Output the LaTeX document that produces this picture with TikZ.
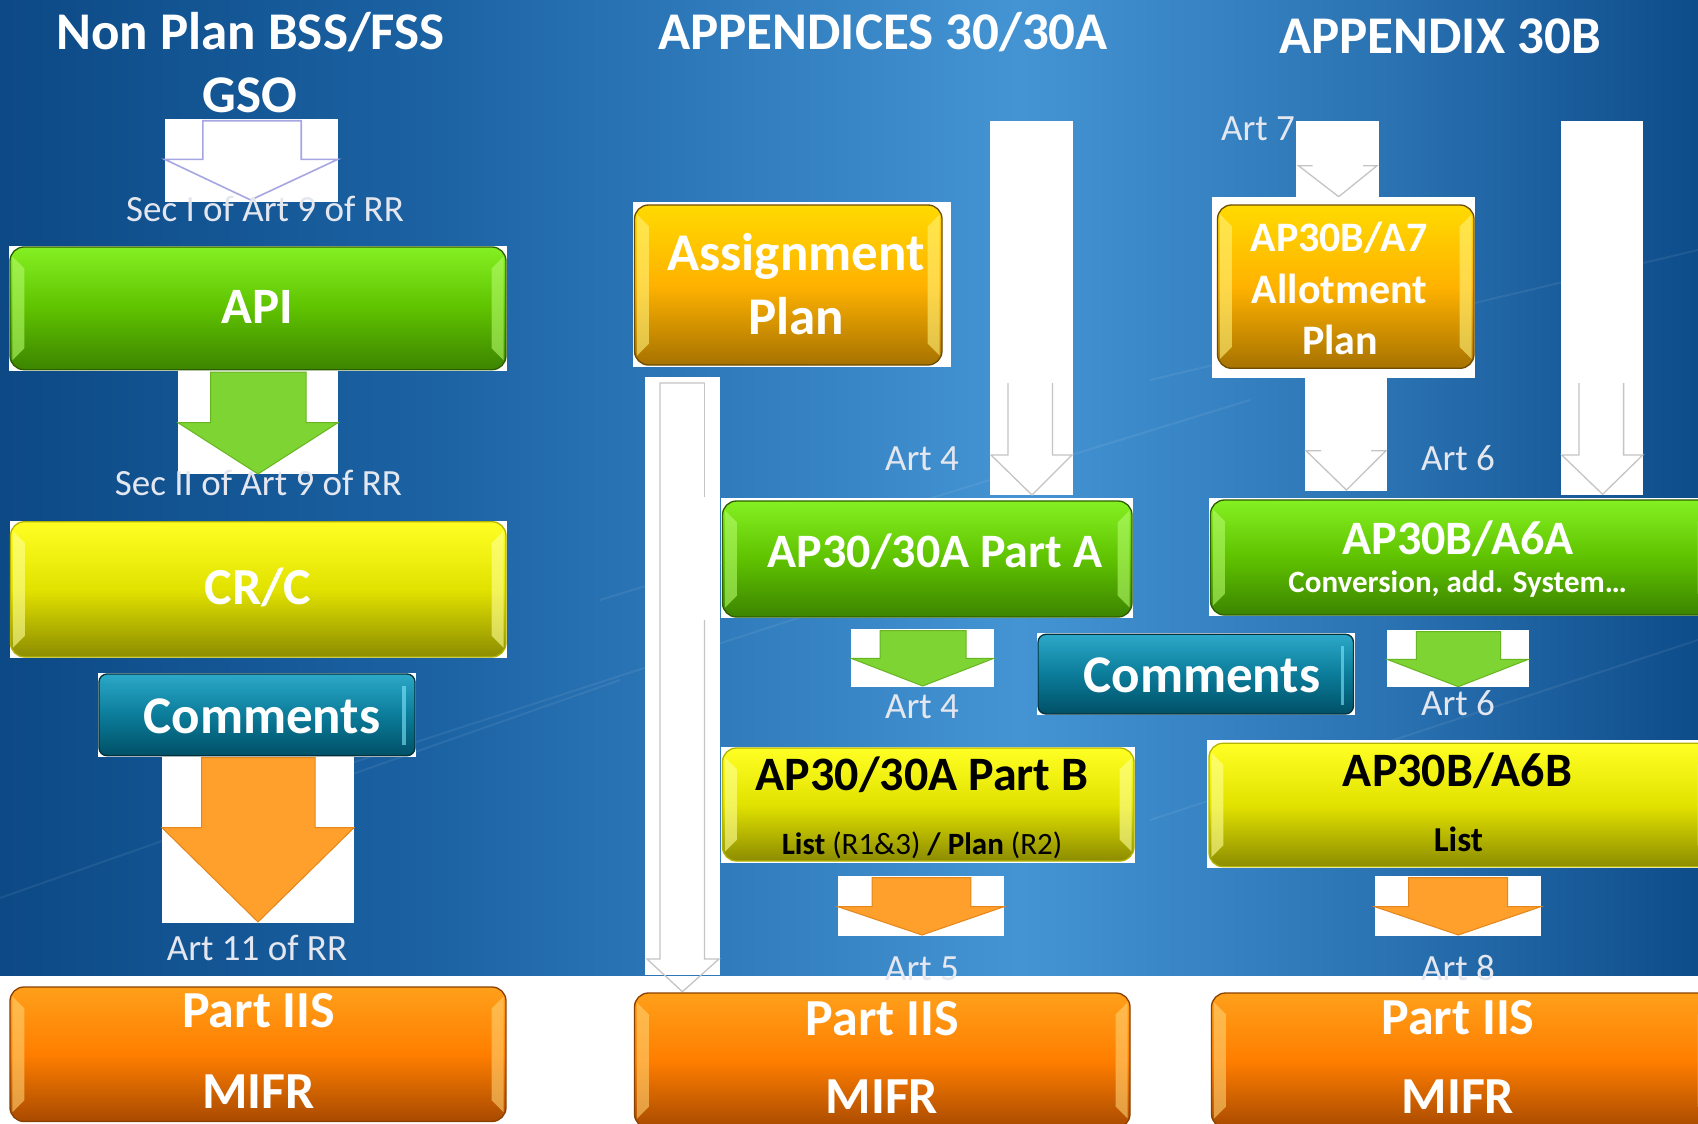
\documentclass[tikz,border=0pt]{standalone}
\usepackage{fontspec}
\setmainfont{Carlito}
\usetikzlibrary{calc,fit}

\definecolor{bgA}{HTML}{0C4985}
\definecolor{bgB}{HTML}{1C63A4}
\definecolor{bgC}{HTML}{4494D4}
\definecolor{bgD}{HTML}{2A72B2}
\definecolor{bgE}{HTML}{0E4C8A}
\pgfdeclarehorizontalshading{bgshade}{100bp}{color(0bp)=(bgA); color(25bp)=(bgA); color(38bp)=(bgB); color(55bp)=(bgC); color(66bp)=(bgD); color(75bp)=(bgE); color(100bp)=(bgE)}

\definecolor{lblc}{HTML}{E4E7EF}
\definecolor{gTop}{HTML}{84F022}
\definecolor{gMid}{HTML}{5FC200}
\definecolor{gBot}{HTML}{3C8400}
\definecolor{gLine}{HTML}{2C5E00}
\definecolor{gHi}{HTML}{B4FA6A}
\definecolor{yTop}{HTML}{FFFF24}
\definecolor{yMid}{HTML}{E2E200}
\definecolor{yBot}{HTML}{8C8C00}
\definecolor{yLine}{HTML}{B4B400}
\definecolor{yHi}{HTML}{FFFF96}
\definecolor{oTop}{HTML}{FFA01A}
\definecolor{oMid}{HTML}{FF7E00}
\definecolor{oBot}{HTML}{A84A00}
\definecolor{oLine}{HTML}{8A4000}
\definecolor{oHi}{HTML}{FFD070}
\definecolor{auTop}{HTML}{FFDA00}
\definecolor{auMid}{HTML}{FFB200}
\definecolor{auBot}{HTML}{A67200}
\definecolor{auLine}{HTML}{6E4C00}
\definecolor{auHi}{HTML}{FFF27A}
\definecolor{tTop}{HTML}{2CA8C8}
\definecolor{tMid}{HTML}{0B7C9A}
\definecolor{tBot}{HTML}{005066}
\definecolor{tLine}{HTML}{00303C}
\definecolor{tHi}{HTML}{7FE6FA}
\definecolor{agreen}{HTML}{7ED432}
\definecolor{agreenL}{HTML}{67B523}
\definecolor{aorange}{HTML}{FF9F2C}
\definecolor{aorangeL}{HTML}{E4861A}
\definecolor{lav}{HTML}{A6A6E2}
\definecolor{wgray}{HTML}{C4C4C4}

\newcommand{\mybevel}[2]{%
  \fill[#2, opacity=.6] ($(#1.north west)+(3,10)$) -- ($(#1.north west)+(15,22)$) -- ($(#1.south west)+(15,-22)$) -- ($(#1.south west)+(3,-10)$) -- cycle;
  \fill[#2, opacity=.6] ($(#1.north east)+(-3,10)$) -- ($(#1.north east)+(-15,22)$) -- ($(#1.south east)+(-15,-22)$) -- ($(#1.south east)+(-3,-10)$) -- cycle;
}

\begin{document}
\begin{tikzpicture}[x=1pt,y=-1pt,
  box/.style={draw=#1Line, line width=1.3pt, rounded corners=14pt, top color=#1Top, bottom color=#1Bot, middle color=#1Mid, inner sep=0pt},
  tbox/.style={draw=tLine, line width=1.3pt, rounded corners=8pt, top color=tTop, bottom color=tBot, middle color=tMid, inner sep=0pt},
  tx/.style={anchor=base, inner sep=0pt},
  ttl/.style={tx, text=white, font=\bfseries\fontsize{53}{53}\selectfont},
  lbl/.style={tx, text=lblc, font=\fontsize{37}{37}\selectfont},
  bw/.style={tx, text=white, font=\bfseries\fontsize{#1}{#1}\selectfont},
  bk/.style={tx, text=black, font=\bfseries\fontsize{#1}{#1}\selectfont},
  garrow/.style={fill=agreen, draw=agreenL, line width=1pt},
  oarrow/.style={fill=aorange, draw=aorangeL, line width=1pt},
  wline/.style={draw=wgray, line width=1.3pt},
  streak/.style={white, opacity=.07, line width=2pt}
]
\useasboundingbox (0,0) rectangle (1698,1124);
\fill[white] (0,0) rectangle (1698,1124);
\shade[shading=bgshade] (0,0) rectangle (1698,975);

% faint streaks
\draw[streak] (0,898) -- (620,680);
\draw[streak] (330,770) -- (1100,520);
\draw[streak] (600,600) -- (1250,400);
\draw[streak] (1150,380) -- (1698,250);
\draw[streak] (1150,820) -- (1698,640);

% ---------------- Left column ----------------
\node[ttl] (t1a) at (250.5,50) {Non Plan BSS/FSS};
\node[ttl] (t1b) at (250,113) {GSO};

\fill[white] (164.6,119) rectangle (337.9,201.7);
\draw[fill=white, draw=lav, line width=1.6pt] (202.8,120.7) -- (202.8,159.3) -- (164.6,159.3) -- (250.7,200) -- (337.9,159.3) -- (301.2,159.3) -- (301.2,120.7) -- cycle;
\node[lbl] (l1) at (265,221.7) {Sec I of Art 9 of RR};

\fill[white] (9,246) rectangle (507,370.7);
\node[box=g, fit={(10,247) (506,369.7)}] (api) {};
\mybevel{api}{gHi}
\node[bw=51] (apit) at (257,323) {API};

\fill[white] (178,370.7) rectangle (338,474);
\draw[garrow] (210.5,372) -- (210.5,422.7) -- (178,422.7) -- (258,474) -- (338,422.7) -- (306,422.7) -- (306,372) -- cycle;
\node[lbl] (l2) at (258.5,495) {Sec II of Art 9 of RR};

\fill[white] (9.6,520.7) rectangle (507,658);
\node[box=y, fit={(10.5,521.7) (506,657)}] (crc) {};
\mybevel{crc}{yHi}
\node[bw=52] (crct) at (258,604) {CR/C};

\fill[white] (98,673) rectangle (416,756.7);
\node[tbox, fit={(99,674) (415,755.7)}] (cm1) {};
\fill[tHi, opacity=.6] (402,686) rectangle (405.5,745);
\node[bw=53] (cm1t) at (262,733) {Comments};

\fill[white] (162,756.7) rectangle (354,922.7);
\draw[oarrow] (201.7,757.5) -- (201.7,827.7) -- (162,827.7) -- (258,922) -- (354,827.7) -- (315,827.7) -- (315,757.5) -- cycle;
\node[lbl] (l3) at (257,960) {Art 11 of RR};

\node[box=o, fit={(10,987) (506,1121.5)}] (mifr1) {};
\mybevel{mifr1}{oHi}
\node[bw=52] (mifr1a) at (258.7,1027.7) {Part IIS};
\node[bw=52] (mifr1b) at (258.3,1108) {MIFR};

% ---------------- Middle column ----------------
\node[ttl] (t2) at (883,50) {APPENDICES 30/30A};

\fill[white] (633,201.7) rectangle (950.8,366.7);
\node[box=au, fit={(634.5,205) (942,365)}] (asg) {};
\mybevel{asg}{auHi}
\node[bw=53] (asga) at (796,270.7) {Assignment};
\node[bw=53] (asgb) at (796,334.3) {Plan};

% tall white arrow (Art 4 from top)
\fill[white] (990,121) rectangle (1073,495);
\draw[wline] (1008,383) -- (1008,455) -- (991,455) -- (1032,495) -- (1072,455) -- (1052.5,455) -- (1052.5,383);
\node[lbl] (l4) at (922,470) {Art 4};

% long white arrow (Assignment plan to MIFR)
\fill[white] (645,377) rectangle (720,975);
\draw[wline] (704.5,383) -- (660,383) -- (660,959) -- (647,959) -- (682.4,991.7) -- (719,959) -- (704.5,959) -- (704.5,620);
\draw[wline] (704.5,497) -- (704.5,383);

\fill[white] (721,497.7) rectangle (1133,618.3);
\node[box=g, fit={(722.5,501) (1132,617)}] (pa) {};
\mybevel{pa}{gHi}
\node[bw=48] (pat) at (935,567.7) {AP30/30A Part A};

\fill[white] (851,629) rectangle (994,686.7);
\draw[garrow] (880,630.5) -- (880,658.3) -- (851,658.3) -- (922.7,686) -- (994,658.3) -- (966,658.3) -- (966,630.5) -- cycle;
\node[lbl] (l5) at (922,718) {Art 4};

\fill[white] (1037,633.3) rectangle (1354.5,715);
\node[tbox, fit={(1038,634.3) (1353.5,714)}] (cm2) {};
\fill[tHi, opacity=.6] (1340.5,646) rectangle (1344,705);
\node[bw=53] (cm2t) at (1202,692.7) {Comments};

\fill[white] (721,746.7) rectangle (1135,862.7);
\node[box=y, fit={(722.5,748) (1134,861)}] (pb) {};
\mybevel{pb}{yHi}
\node[bk=48] (pbt) at (922,790.7) {AP30/30A Part B};
\node[tx, text=black, font=\fontsize{31}{31}\selectfont] (pbl) at (922,854) {\textbf{List} (R1\&3) \textbf{/ Plan} (R2)};

\fill[white] (838,876) rectangle (1004,935.7);
\draw[oarrow] (872,877.5) -- (872,906.7) -- (838,906.7) -- (922,935) -- (1004,906.7) -- (970.8,906.7) -- (970.8,877.5) -- cycle;
\node[lbl] (l6) at (922,980) {Art 5};

\node[box=o, fit={(634.5,993) (1130,1128)}] (mifr2) {};
\mybevel{mifr2}{oHi}
\node[bw=52] (mifr2a) at (882.4,1035) {Part IIS};
\node[bw=52] (mifr2b) at (882,1113) {MIFR};

% ---------------- Right column ----------------
\node[ttl] (t3) at (1440,53.3) {APPENDIX 30B};
\node[lbl] (l7) at (1258,140) {Art 7};

\fill[white] (1296,121) rectangle (1379,196.7);
\draw[wline] (1312.5,165.7) -- (1298.5,165.7) -- (1338.7,196.7) -- (1377,165.7) -- (1363,165.7);

\fill[white] (1212,196.7) rectangle (1475,378.3);
\node[box=au, fit={(1217.5,205) (1474,368.3)}] (a7) {};
\mybevel{a7}{auHi}
\node[bw=42] (a7a) at (1339,251.7) {AP30B/A7};
\node[bw=42] (a7b) at (1339.5,303.3) {Allotment};
\node[bw=42] (a7c) at (1340,354) {Plan};

\fill[white] (1305,378.3) rectangle (1387,490.7);
\draw[wline] (1321,450.7) -- (1306,450.7) -- (1346.4,490) -- (1386,450.7) -- (1371,450.7);

\fill[white] (1560.7,121) rectangle (1642.8,495);
\draw[wline] (1579,383) -- (1579,455) -- (1561.7,455) -- (1602.6,494.3) -- (1642.8,455) -- (1623.6,455) -- (1623.6,383);
\node[lbl] (l8) at (1458,470) {Art 6};

\fill[white] (1208.7,498.3) rectangle (1698,616);
\node[box=g, fit={(1210.5,500) (1712,615)}] (a6a) {};
\mybevel{a6a}{gHi}
\node[bw=48] (a6at) at (1458,554) {AP30B/A6A};
\node[bw=31] (a6as) at (1457.6,592.7) {Conversion, add. System…};

\fill[white] (1387,630) rectangle (1528.5,687.3);
\draw[garrow] (1416.3,631.7) -- (1416.3,659.3) -- (1387,659.3) -- (1458.3,686.7) -- (1528.5,659.3) -- (1500.5,659.3) -- (1500.5,631.7) -- cycle;
\node[lbl] (l9) at (1458,715) {Art 6};

\fill[white] (1207,740) rectangle (1698,868.3);
\node[box=y, fit={(1209,743.3) (1712,866.7)}] (a6b) {};
\mybevel{a6b}{yHi}
\node[bk=48] (a6bt) at (1457.5,786.7) {AP30B/A6B};
\node[bk=35] (a6bl) at (1458.4,851.7) {List};

\fill[white] (1374.7,876) rectangle (1540.7,935.7);
\draw[oarrow] (1408.6,877.5) -- (1408.6,906.7) -- (1374.7,906.7) -- (1458.3,935) -- (1540.7,906.7) -- (1507.5,906.7) -- (1507.5,877.5) -- cycle;
\node[lbl] (l10) at (1458,980) {Art 8};

\node[box=o, fit={(1211.5,993) (1712,1128)}] (mifr3) {};
\mybevel{mifr3}{oHi}
\node[bw=52] (mifr3a) at (1458,1034) {Part IIS};
\node[bw=52] (mifr3b) at (1458,1113) {MIFR};
\end{tikzpicture}
\end{document}
